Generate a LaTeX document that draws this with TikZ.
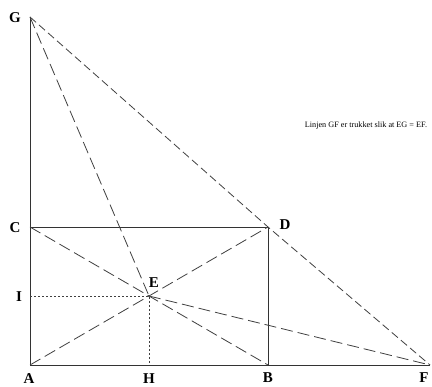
\documentclass[tikz,border=0pt]{standalone}
\usepackage{fontspec}
\setmainfont{Liberation Serif}
\usetikzlibrary{positioning}

\begin{document}
\begin{tikzpicture}[
    x=1pt, y=-1pt,
    side/.style={draw=black!80, line width=0.8pt},
    longdash/.style={draw=black!75, line width=0.8pt, dash pattern=on 12pt off 5pt},
    shortdash/.style={draw=black!75, line width=0.8pt, dash pattern=on 8pt off 4pt},
    dotline/.style={draw=black!75, line width=0.7pt, dash pattern=on 2pt off 2pt},
    letter/.style={font=\fontsize{15}{15}\selectfont\bfseries, inner sep=0pt}
]
\useasboundingbox (0,0) rectangle (432,387);
\fill[white] (0,0) rectangle (432,387);

% points
\coordinate (A) at (30,365);
\coordinate (B) at (268,365);
\coordinate (C) at (30,227);
\coordinate (D) at (268,227);
\coordinate (E) at (149,296);
\coordinate (G) at (30,17);
\coordinate (F) at (430,365);
\coordinate (H) at (149,365);
\coordinate (I) at (30,296);

% solid sides
\draw[side] (G) -- (A) -- (F);
\draw[side] (C) -- (D) -- (B);

% construction lines
\draw[shortdash] (G) -- (D) -- (F);
\draw[longdash] (G) -- (E);
\draw[longdash] (C) -- (B);
\draw[longdash] (A) -- (D);
\draw[longdash] (E) -- (F);
\draw[dotline] (I) -- (E) -- (H);

% labels
\node[letter] (lG) at (15,18) {G};
\node[letter] (lC) at (15,228) {C};
\node[letter] (lI) at (19,297) {I};
\node[letter] (lA) at (29,379) {A};
\node[letter] (lH) at (149,379) {H};
\node[letter] (lB) at (268,378) {B};
\node[letter] (lF) at (424,378) {F};
\node[letter] (lD) at (285,225) {D};
\node[letter] (lE) at (154,283) {E};

\node[font=\fontsize{8.2}{8.2}\selectfont, inner sep=0pt] (note) at (366,126) {Linjen GF er trukket slik at EG = EF.};
\end{tikzpicture}
\end{document}
